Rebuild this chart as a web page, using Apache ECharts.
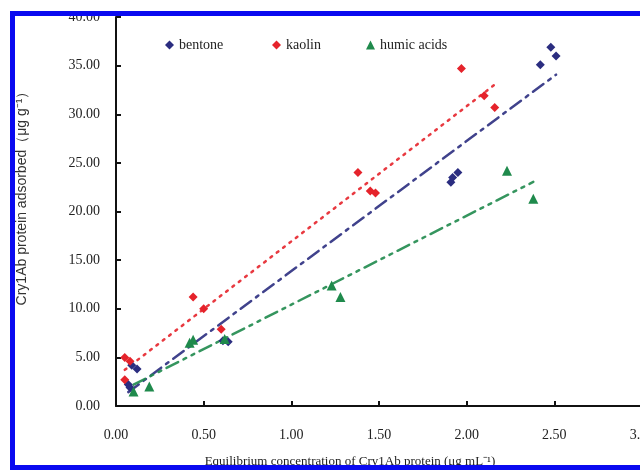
<!DOCTYPE html>
<html><head><meta charset="utf-8">
<script src="https://cdn.jsdelivr.net/npm/echarts@6/dist/echarts.min.js"></script>
<style>html,body{margin:0;padding:0;background:#fff}#c{width:640px;height:470px}</style>
</head><body><div id="c"></div>
<script>
const xTicks = [0, 0.5, 1.0, 1.5, 2.0, 2.5, 3.0];
const yTicks = [0, 5, 10, 15, 20, 25, 30, 35, 40];
const bentoneX = [0.07, 0.08, 0.09, 0.12, 0.61, 0.64, 1.91, 1.92, 1.95, 2.42, 2.48, 2.51];
const bentoneY = [2.2, 1.9, 4.2, 3.8, 6.7, 6.6, 23.0, 23.5, 24.0, 35.1, 36.9, 36.0];
const kaolinX = [0.05, 0.05, 0.08, 0.44, 0.50, 0.60, 1.38, 1.45, 1.48, 1.97, 2.10, 2.16];
const kaolinY = [2.7, 5.0, 4.6, 11.2, 10.0, 7.9, 24.0, 22.1, 21.9, 34.7, 31.9, 30.7];
const humicX = [0.10, 0.19, 0.42, 0.44, 0.62, 1.23, 1.28, 2.23, 2.38];
const humicY = [1.5, 2.0, 6.5, 6.8, 6.9, 12.4, 11.2, 24.2, 21.3];
const names = ['bentone', 'kaolin', 'humic acids'];
const colors = ['#2b2d80', '#e5232b', '#1f8a4c'];

function pairs(xs, ys) { return xs.map((x, i) => [x, ys[i]]); }
function fit(xs, ys) {
  const n = xs.length;
  const mx = xs.reduce((a, b) => a + b, 0) / n, my = ys.reduce((a, b) => a + b, 0) / n;
  let sxy = 0, sxx = 0;
  for (let i = 0; i < n; i++) { sxy += (xs[i] - mx) * (ys[i] - my); sxx += (xs[i] - mx) ** 2; }
  const b = sxy / sxx, a = my - b * mx;
  const x0 = Math.min(...xs), x1 = Math.max(...xs);
  return [[x0, a + b * x0], [x1, a + b * x1]];
}
const serif = 'Liberation Serif';
const chart = echarts.init(document.getElementById('c'), null, {renderer: 'canvas'});
const scat = (name, xs, ys, color, symbol, size) => ({
  name, type: 'scatter', data: pairs(xs, ys), symbol, symbolSize: size,
  itemStyle: {color, opacity: 1}, z: 5
});
const trend = (xs, ys, color, type) => ({
  type: 'line', data: fit(xs, ys), symbol: 'none', silent: true,
  lineStyle: {color, width: 2.5, type, cap: 'round', opacity: 0.9}, z: 3
});
const legendText = {fontFamily: serif, fontSize: 14, color: '#222'};
chart.setOption({
  animation: false,
  backgroundColor: '#fff',
  grid: {left: 116, top: 17, width: 526, height: 389, containLabel: false, outerBoundsMode: 'none'},
  legend: [
    {data: [{name: 'bentone', icon: 'diamond'}], left: 165, top: 38, padding: 0, itemWidth: 9, itemHeight: 9,
     textStyle: legendText},
    {data: [{name: 'kaolin', icon: 'diamond'}], left: 272, top: 38, padding: 0, itemWidth: 9, itemHeight: 9,
     textStyle: legendText},
    {data: [{name: 'humic acids', icon: 'triangle'}], left: 366, top: 38, padding: 0, itemWidth: 9, itemHeight: 9,
     textStyle: legendText}
  ],
  xAxis: {
    type: 'value', min: 0, max: 3, interval: 0.5,
    axisLine: {lineStyle: {color: '#111', width: 2}},
    axisTick: {inside: true, length: 5, lineStyle: {color: '#111', width: 2}},
    splitLine: {show: false},
    axisLabel: {fontFamily: serif, fontSize: 14, color: '#222', margin: 22,
      formatter: v => v.toFixed(2)}
  },
  yAxis: {
    type: 'value', min: 0, max: 40, interval: 5,
    axisLine: {show: true, lineStyle: {color: '#111', width: 2}},
    axisTick: {show: true, inside: true, length: 5, lineStyle: {color: '#111', width: 2}},
    splitLine: {show: false},
    axisLabel: {fontFamily: serif, fontSize: 14, color: '#222', margin: 16,
      formatter: v => v.toFixed(2)}
  },
  series: [
    trend(kaolinX, kaolinY, colors[1], [2, 6]),
    trend(bentoneX, bentoneY, colors[0], [13, 6, 3, 6]),
    trend(humicX, humicY, colors[2], [13, 6, 3, 6, 3, 6]),
    scat(names[0], bentoneX, bentoneY, colors[0], 'diamond', 9),
    scat(names[1], kaolinX, kaolinY, colors[1], 'diamond', 9),
    scat(names[2], humicX, humicY, colors[2], 'triangle', 10)
  ],
  graphic: [
    {type: 'text', x: 22, y: 195, rotation: Math.PI / 2, z: 10,
     style: {text: 'Cry1Ab protein adsorbed（μg g⁻¹）', fontFamily: 'Liberation Sans', fontSize: 14,
       fill: '#333', align: 'center', verticalAlign: 'middle'}},
    {type: 'text', x: 350, y: 462, z: 10,
     style: {text: 'Equilibrium concentration of Cry1Ab protein (μg mL⁻¹)', fontFamily: serif, fontSize: 13,
       fill: '#222', align: 'center', verticalAlign: 'middle'}},
    {type: 'rect', shape: {x: 10, y: 11, width: 640, height: 5}, style: {fill: '#0a0af0'}, z: 20},
    {type: 'rect', shape: {x: 10, y: 11, width: 5, height: 459}, style: {fill: '#0a0af0'}, z: 20},
    {type: 'rect', shape: {x: 10, y: 465, width: 640, height: 5}, style: {fill: '#0a0af0'}, z: 20}
  ]
});
</script></body></html>
